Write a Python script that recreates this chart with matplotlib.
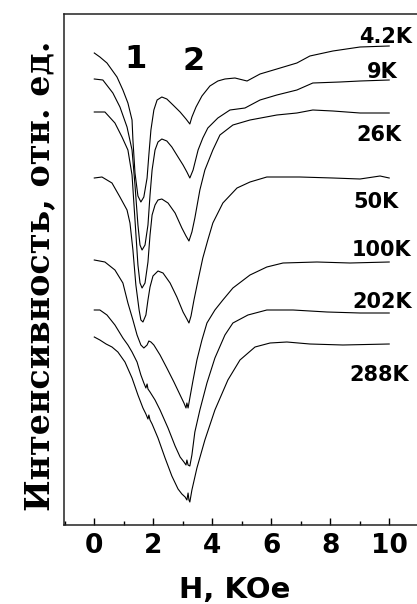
import matplotlib
matplotlib.use('Agg')
import matplotlib.pyplot as plt
from matplotlib.ticker import MultipleLocator

# H in kOe, intensity in arbitrary units (curves already shifted)
h_4k2 = [0, 0.19, 0.43, 0.77, 0.97, 1.14, 1.28, 1.31, 1.38, 1.48, 1.58, 1.68, 1.79, 1.85, 1.92, 2.02, 2.13, 2.29,
         2.46, 2.67, 2.91, 3.11, 3.24, 3.31, 3.45, 3.65, 3.92, 4.19, 4.43, 4.77, 5.18, 5.62, 6.19, 6.87, 7.31,
         8.09, 9.01, 10.0]
i_4k2 = [472, 468, 462, 448, 435, 422, 405, 385, 352, 329, 323, 328, 347, 370, 395, 415, 425, 428,
         426, 420, 413, 406, 401, 408, 418, 429, 439, 444, 446, 447, 444, 451, 456, 462, 469,
         474, 478, 479]

h_9k = [0, 0.29, 0.63, 0.87, 1.11, 1.28, 1.38, 1.48, 1.55, 1.62, 1.72, 1.82, 1.89, 1.96, 2.06, 2.16, 2.29, 2.46,
        2.63, 2.84, 3.01, 3.14, 3.24, 3.35, 3.52, 3.68, 3.85, 4.19, 4.60, 5.11, 5.62, 6.19, 6.87, 7.41, 8.33,
        9.01, 10.0]
i_9k = [446, 445, 432, 418, 398, 375, 340, 300, 280, 275, 280, 300, 330, 355, 375, 383, 386, 384,
        378, 368, 360, 353, 347, 355, 375, 387, 397, 407, 415, 417, 425, 430, 435, 442, 443,
        444, 445]

h_26k = [0, 0.36, 0.70, 0.94, 1.14, 1.28, 1.38, 1.48, 1.55, 1.62, 1.72, 1.82, 1.89, 1.96, 2.06, 2.16, 2.29, 2.50,
         2.74, 2.97, 3.11, 3.21, 3.31, 3.41, 3.58, 3.75, 4.02, 4.26, 4.70, 5.28, 6.19, 6.87, 7.41, 8.09, 9.01, 10.0]
i_26k = [413, 413, 402, 388, 375, 350, 305, 260, 242, 237, 242, 263, 290, 310, 320, 325, 326, 322,
         312, 297, 289, 284, 293, 307, 335, 355, 375, 390, 400, 405, 410, 412, 415, 414, 412, 412]

h_50k = [0, 0.26, 0.60, 0.87, 1.11, 1.21, 1.31, 1.41, 1.52, 1.58, 1.65, 1.75, 1.82, 1.89, 1.99, 2.16, 2.33, 2.57,
         2.80, 3.01, 3.14, 3.21, 3.28, 3.38, 3.52, 3.68, 3.85, 4.02, 4.36, 4.84, 5.28, 5.85, 6.97, 8.09, 9.01,
         9.69, 10.0]
i_50k = [347, 348, 342, 328, 315, 302, 275, 240, 215, 205, 203, 210, 225, 238, 249, 254, 252, 242,
         228, 213, 206, 202, 209, 225, 245, 267, 285, 302, 322, 337, 343, 348, 348, 347, 346,
         349, 347]

h_100k = [0, 0.36, 0.70, 0.97, 1.14, 1.31, 1.45, 1.58, 1.68, 1.79, 1.85, 1.92, 2.02, 2.23, 2.46, 2.70, 2.91, 3.04,
          3.11, 3.14, 3.18, 3.24, 3.35, 3.48, 3.65, 3.82, 4.09, 4.36, 4.70, 5.28, 5.85, 6.40, 7.55, 8.67, 10.0]
i_100k = [265, 263, 255, 242, 222, 205, 190, 180, 177, 180, 184, 183, 180, 170, 157, 143, 130, 122,
          117, 122, 117, 127, 145, 165, 185, 202, 215, 225, 237, 250, 258, 262, 263, 262, 263]

h_202k = [0, 0.19, 0.43, 0.70, 0.97, 1.14, 1.28, 1.45, 1.58, 1.68, 1.75, 1.79, 1.82, 1.89, 2.06, 2.23, 2.50, 2.74,
          2.91, 3.04, 3.11, 3.14, 3.18, 3.24, 3.31, 3.41, 3.58, 3.82, 4.09, 4.43, 4.70, 5.21, 5.85, 6.74, 7.89,
          9.01, 10.0]
i_202k = [215, 215, 210, 200, 187, 180, 173, 163, 150, 142, 137, 141, 136, 133, 125, 115, 97, 79,
          68, 63, 60, 65, 60, 59, 70, 93, 115, 142, 167, 190, 202, 210, 215, 215, 213,
          212, 212]

h_288k = [0, 0.19, 0.40, 0.60, 0.80, 1.04, 1.28, 1.48, 1.65, 1.75, 1.82, 1.85, 1.89, 1.96, 2.16, 2.40, 2.63, 2.84,
          2.97, 3.08, 3.14, 3.18, 3.21, 3.24, 3.31, 3.48, 3.75, 4.09, 4.53, 4.94, 5.45, 5.96, 6.53, 7.31, 8.43, 10.0]
i_288k = [188, 185, 181, 178, 173, 163, 147, 130, 117, 111, 106, 110, 105, 101, 87, 67, 49, 36,
          31, 28, 25, 32, 25, 23, 35, 57, 85, 115, 145, 165, 178, 182, 183, 181, 180, 181]

temp_labels = ['4.2K', '9K', '26K', '50K', '100K', '202K', '288K']
curves = [(h_4k2, i_4k2), (h_9k, i_9k), (h_26k, i_26k), (h_50k, i_50k),
          (h_100k, i_100k), (h_202k, i_202k), (h_288k, i_288k)]

# label anchor points (H, intensity)
label_pos = [(9.89, 488), (9.75, 453), (9.65, 390), (9.55, 323), (9.75, 275), (9.75, 223), (9.65, 150)]

fig = plt.figure(figsize=(4.17, 6.04), dpi=100)
ax = fig.add_axes([64 / 417, 79 / 604, 360 / 417, 511 / 604])

for (h, inten) in curves:
    ax.plot(h, inten, color='black', linewidth=0.8)

for lab, (x, y) in zip(temp_labels, label_pos):
    ax.text(x, y, lab, fontsize=15, fontweight='bold', ha='center', va='center')

ax.text(1.41, 465, '1', fontsize=23, fontweight='bold', ha='center', va='center')
ax.text(3.36, 464, '2', fontsize=23, fontweight='bold', ha='center', va='center')

ax.set_xlim(-1.027, 11.18)
ax.set_ylim(0, 511)

ax.spines['right'].set_visible(False)
for s in ['left', 'top', 'bottom']:
    ax.spines[s].set_linewidth(1.1)
    ax.spines[s].set_color('#222222')

ax.xaxis.set_minor_locator(MultipleLocator(1))
ax.set_xticks([0, 2, 4, 6, 8, 10])
ax.tick_params(axis='x', which='major', direction='in', length=5, width=1.0, pad=6,
               labelsize=19)
ax.tick_params(axis='x', which='minor', direction='in', length=3, width=1.0)
for t in ax.get_xticklabels():
    t.set_fontweight('bold')
ax.set_yticks([])

fig.text(235 / 417, 1 - 590 / 604, 'H, KOe', fontsize=21, fontweight='bold',
         ha='center', va='center')
fig.text(40 / 417, 1 - 276 / 604, 'Интенсивность, отн. ед.', fontsize=24,
         fontweight='bold', family='DejaVu Serif', rotation=90, ha='center', va='center')

fig.savefig('out.png', dpi=100)
